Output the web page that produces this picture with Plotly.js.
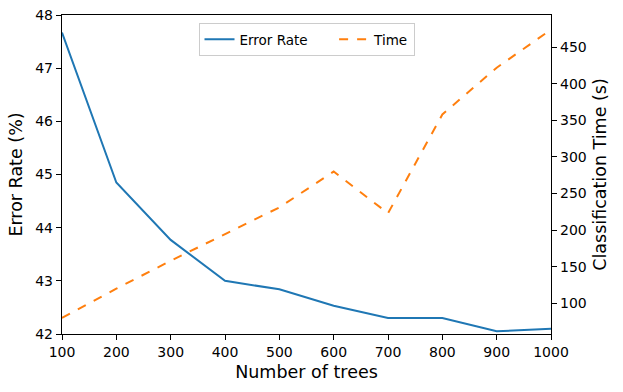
<!DOCTYPE html>
<html>
<head>
<meta charset="utf-8">
<script src="https://cdn.plot.ly/plotly-3.0.1.min.js"></script>
<style>
  html, body { margin: 0; padding: 0; background: #fff; }
  #chart { width: 623px; height: 392px; }
</style>
</head>
<body>
<div id="chart"></div>
<script>
let trees = [100, 200, 300, 400, 500, 600, 700, 800, 900, 1000];
let errorRate = [47.67, 44.85, 43.77, 43.0, 42.84, 42.53, 42.3, 42.3, 42.05, 42.1];
let classTime = [80, 120, 158, 194, 231, 280, 223, 358, 422, 474];

// trailing nbsp to widen the gap between legend entries like the original
let errorTrace = {
  x: trees,
  y: errorRate,
  name: 'Error Rate\u00a0\u00a0\u00a0\u00a0\u00a0',
  type: 'scatter',
  mode: 'lines',
  line: { color: '#1f77b4', width: 2 }
};

let timeTrace = {
  x: trees,
  y: classTime,
  name: 'Time',
  type: 'scatter',
  mode: 'lines',
  yaxis: 'y2',
  line: { color: '#ff7f0e', width: 2, dash: 'dash' }
};

let tickFont = { family: 'DejaVu Sans', size: 14, color: '#000' };
let titleFont = { family: 'DejaVu Sans', size: 17.5, color: '#000' };

let layout = {
  width: 623,
  height: 392,
  margin: { l: 62, r: 72, t: 15, b: 58 },
  paper_bgcolor: '#fff',
  plot_bgcolor: '#fff',
  showlegend: true,
  legend: {
    orientation: 'h',
    x: 0.5,
    xanchor: 'center',
    y: 0.975,
    yanchor: 'top',
    bgcolor: 'rgba(255,255,255,0.8)',
    bordercolor: '#cccccc',
    borderwidth: 1,
    font: { family: 'DejaVu Sans', size: 13.5, color: '#000' }
  },
  xaxis: {
    range: [100, 1000],
    tickvals: trees,
    showgrid: false,
    zeroline: false,
    showline: true,
    mirror: true,
    linecolor: '#000',
    linewidth: 1.2,
    ticks: 'outside',
    ticklen: 5,
    tickcolor: '#000',
    tickfont: tickFont,
    title: { text: 'Number of trees', font: titleFont, standoff: 6 }
  },
  yaxis: {
    range: [42, 48],
    dtick: 1,
    showgrid: false,
    zeroline: false,
    showline: true,
    linecolor: '#000',
    linewidth: 1.2,
    ticks: 'outside',
    ticklen: 5,
    tickcolor: '#000',
    tickfont: tickFont,
    title: { text: 'Error Rate (%)', font: titleFont, standoff: 8 }
  },
  yaxis2: {
    overlaying: 'y',
    side: 'right',
    range: [58, 494],
    tickvals: [100, 150, 200, 250, 300, 350, 400, 450],
    showgrid: false,
    zeroline: false,
    showline: true,
    linecolor: '#000',
    linewidth: 1.2,
    ticks: 'outside',
    ticklen: 5,
    tickcolor: '#000',
    tickfont: tickFont,
    title: { text: 'Classification Time (s)', font: titleFont, standoff: 8 }
  }
};

Plotly.newPlot('chart', [errorTrace, timeTrace], layout, { staticPlot: true });
</script>
</body>
</html>
